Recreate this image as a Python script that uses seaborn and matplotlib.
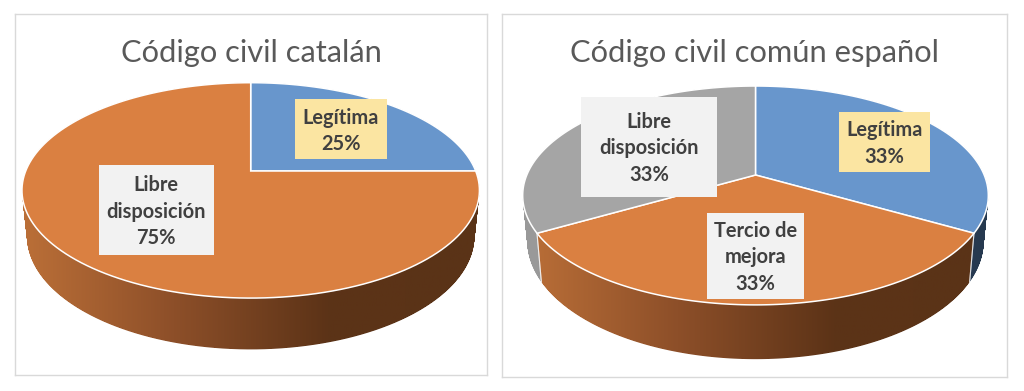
import matplotlib
matplotlib.use("Agg")
import matplotlib.pyplot as plt
import numpy as np
import seaborn as sns
from matplotlib.patches import PathPatch, Polygon, Rectangle
from matplotlib.path import Path

sns.set_theme(style="white")
plt.rcParams['font.family'] = ['Lato', 'DejaVu Sans']

# data
titles = ['Código civil catalán', 'Código civil común español']
catalan_labels = ['Legítima\n25%', 'Libre\ndisposición\n75%']
catalan_values = [25, 75]
comun_labels = ['Legítima\n33%', 'Tercio de\nmejora\n33%', 'Libre\ndisposición\n33%']
comun_values = [33, 33, 33]

# slice colours, top face and side wall
BLUE, ORANGE, GREY = '#6896CC', '#DA8041', '#A5A5A5'
wall_orange = sns.blend_palette(['#BC7038', '#8D4F29', '#5C3317', '#5A3317'], as_cmap=True)
wall_blue = sns.blend_palette(['#2C4A6E', '#26394F'], as_cmap=True)
wall_grey = sns.blend_palette(['#9A9A9A', '#7F7F7F'], as_cmap=True)


def project(theta, sx, sy, k):
    # circle -> off-centre ellipse, same as the perspective in the original 3d pie
    t = np.radians(theta)
    w = 1 + k * np.sin(t)
    return sx * np.cos(t) / w, sy * np.sin(t) / w


def wedge_xy(w, cx, cy, sx, sy, k, shrink_x=1.0, shrink_y=1.0, drop=0.0):
    theta = np.linspace(w.theta1, w.theta2, 150)
    x, y = project(theta, sx, sy, k)
    xs = np.r_[0, x] * shrink_x + cx
    ys = cy + drop - np.r_[0, y] * shrink_y
    return np.column_stack([xs, ys])


def pie3d(ax, values, colors, walls, cx, cy, sx, sy, k, shrink_x, shrink_y, drop):
    wedges, _ = ax.pie(values, startangle=90, counterclock=False, colors=colors)
    wedges = list(wedges)
    for w in wedges:
        w.remove()

    # side wall: gradient clipped to the extruded slice
    order = sorted(range(len(wedges)), key=lambda i: walls[i] is wall_orange)
    for i in order:
        w = wedges[i]
        paths = []
        for f in np.linspace(0, 1, 60):
            xy = wedge_xy(w, cx, cy, sx, sy, k, 1 + (shrink_x - 1) * f,
                          1 + (shrink_y - 1) * f, drop * f)
            paths.append(Path(np.vstack([xy, xy[:1]]), closed=True))
        clip = PathPatch(Path.make_compound_path(*paths), transform=ax.transData,
                         facecolor='none', edgecolor='none')
        ax.add_patch(clip)
        x0, x1 = cx - sx * 1.03, cx + sx * 1.03
        im = ax.imshow(np.linspace(0, 1, 256)[None, :], cmap=walls[i], aspect='auto',
                       extent=(x0, x1, cy + drop + sy * 1.5, cy - sy), zorder=1)
        im.set_clip_path(clip)

    # white seams on the wall between slices
    for w in wedges:
        for a in (w.theta1, w.theta2):
            x, y = project(a, sx, sy, k)
            if y < -1:
                ax.plot([cx + x, cx + x * shrink_x], [cy - y, cy + drop - y * shrink_y],
                        color='white', lw=0.8, alpha=0.6, zorder=2)

    # top face
    for w, c in zip(wedges, colors):
        ax.add_patch(Polygon(wedge_xy(w, cx, cy, sx, sy, k), closed=True, facecolor=c,
                             edgecolor='white', lw=1.1, joinstyle='miter', zorder=3))


def label_box(ax, text, x0, x1, y0, y1, color):
    ax.add_patch(Rectangle((x0, y0), x1 - x0, y1 - y0, facecolor=color, edgecolor='none', zorder=4))
    ax.text((x0 + x1) / 2, (y0 + y1) / 2 + 1.5, text, ha='center', va='center', fontsize=14.4,
            fontweight='bold', color='#404040', linespacing=1.4, zorder=5)


def panel(fig, x0, x1, y0, y1):
    return fig.add_axes([x0 / 1024, 1 - y1 / 391, (x1 - x0) / 1024, (y1 - y0) / 391])


def finish(ax, x0, x1, y0, y1, title, title_y):
    ax.set_aspect('auto')
    ax.set_xlim(x0, x1)
    ax.set_ylim(y1, y0)
    ax.set_xticks([])
    ax.set_yticks([])
    ax.set_frame_on(True)
    for s in ax.spines.values():
        s.set_visible(True)
        s.set_color('#D9D9D9')
        s.set_linewidth(1.0)
    ax.text((x0 + x1) / 2, title_y, title, ha='center', va='center', fontsize=22.2, color='#595959')


fig = plt.figure(figsize=(10.24, 3.91), dpi=100, facecolor='white')

# left chart
ax1 = panel(fig, 15, 487, 14, 375)
pie3d(ax1, catalan_values, [BLUE, ORANGE], [wall_blue, wall_orange],
      250.7, 171, 225, 104.2, 0.18, 0.978, 1.05, 45)
label_box(ax1, catalan_labels[0], 295.3, 386.7, 99.3, 159.3, '#FBE5A2')
label_box(ax1, catalan_labels[1], 99, 213.7, 165, 255.3, '#F2F2F2')
finish(ax1, 15, 487, 14, 375, titles[0], 53)

# right chart
ax2 = panel(fig, 502, 1007, 14, 377)
pie3d(ax2, comun_values, [BLUE, ORANGE, GREY], [wall_blue, wall_orange, wall_grey],
      755.5, 175, 228.7, 105.6, 0.187, 0.98, 1.076, 44.4)
label_box(ax2, comun_labels[0], 838.7, 930, 112, 172, '#FBE5A2')
label_box(ax2, comun_labels[1], 707, 804, 212.7, 298.7, '#F2F2F2')
label_box(ax2, comun_labels[2], 581, 717.3, 97, 197, '#F2F2F2')
finish(ax2, 502, 1007, 14, 377, titles[1], 53)

fig.savefig('out.png', dpi=100)
